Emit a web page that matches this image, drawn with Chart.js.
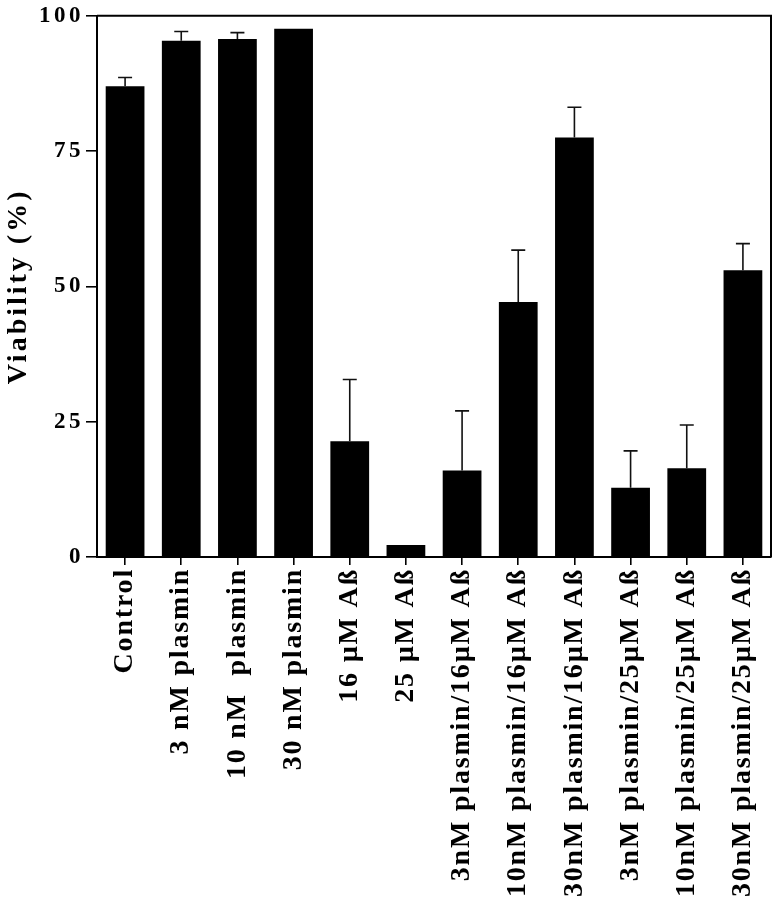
<!DOCTYPE html>
<html>
<head>
<meta charset="utf-8">
<script src="https://cdn.jsdelivr.net/npm/chart.js@4/dist/chart.umd.min.js"></script>
<style>
  html, body { margin: 0; padding: 0; background: #fff; }
  #wrap { width: 773px; height: 899px; }
</style>
</head>
<body>
<div id="wrap"><canvas id="c" width="773" height="899"></canvas></div>
<script>
const categories = [
  "Control", "3 nM plasmin", "10 nM  plasmin", "30 nM plasmin",
  "16 µM Aß", "25 µM Aß",
  "3nM plasmin/16µM Aß", "10nM plasmin/16µM Aß", "30nM plasmin/16µM Aß",
  "3nM plasmin/25µM Aß", "10nM plasmin/25µM Aß", "30nM plasmin/25µM Aß"
];
const viability = [87.0, 95.4, 95.7, 97.6, 21.4, 2.2, 16.0, 47.1, 77.5, 12.8, 16.4, 53.0];
const errorUp   = [1.6, 1.7, 1.2, 0, 11.4, 0, 11.0, 9.6, 5.6, 6.8, 8.0, 4.9];
const yTicks = [0, 25, 50, 75, 100];
const yTitle = "Viability (%)";

const FONT = "'Liberation Serif', 'Times New Roman', serif";

function spaced(scale, px, titlePx) {
  if (scale._spacedWrapped) return;
  const orig = scale.draw.bind(scale);
  scale.draw = function (area) {
    const ctx = this.ctx;
    ctx.letterSpacing = px;
    orig(area);
    ctx.letterSpacing = '0px';
  };
  if (titlePx) {
    const origTitle = scale.drawTitle.bind(scale);
    scale.drawTitle = function () {
      const ctx = this.ctx;
      ctx.letterSpacing = titlePx;
      origTitle();
      ctx.letterSpacing = px;
    };
  }
  scale._spacedWrapped = true;
}

const errorBars = {
  id: 'errorBars',
  afterDatasetsDraw(chart) {
    const ctx = chart.ctx;
    const meta = chart.getDatasetMeta(0);
    const y = chart.scales.y;
    ctx.save();
    ctx.strokeStyle = '#111';
    ctx.lineWidth = 1.6;
    meta.data.forEach((bar, i) => {
      const e = errorUp[i];
      if (!e) return;
      const y0 = y.getPixelForValue(viability[i]);
      const y1 = y.getPixelForValue(viability[i] + e);
      ctx.beginPath();
      ctx.moveTo(bar.x, y0);
      ctx.lineTo(bar.x, y1);
      ctx.moveTo(bar.x - 7, y1);
      ctx.lineTo(bar.x + 7, y1);
      ctx.stroke();
    });
    ctx.restore();
  }
};

const frame = {
  id: 'frame',
  afterDraw(chart) {
    const a = chart.chartArea;
    const ctx = chart.ctx;
    ctx.save();
    ctx.strokeStyle = '#000';
    ctx.lineWidth = 2;
    ctx.beginPath();
    ctx.moveTo(a.left, a.top);
    ctx.lineTo(a.right, a.top);
    ctx.lineTo(a.right, a.bottom);
    ctx.stroke();
    ctx.restore();
  }
};

new Chart(document.getElementById('c'), {
  type: 'bar',
  data: {
    labels: categories,
    datasets: [{
      data: viability,
      backgroundColor: '#000',
      borderWidth: 0,
      barPercentage: 0.69,
      categoryPercentage: 1.0
    }]
  },
  options: {
    responsive: false,
    animation: false,
    layout: { padding: { top: 14, right: 2, left: 0, bottom: 0 } },
    plugins: { legend: { display: false }, tooltip: { enabled: false } },
    scales: {
      x: {
        offset: true,
        grid: { display: true, drawOnChartArea: false, drawTicks: true, tickLength: 8, offset: false, color: '#000', lineWidth: 1.6 },
        border: { display: true, color: '#000', width: 2 },
        ticks: {
          autoSkip: false, maxRotation: 90, minRotation: 90, padding: 3, color: '#000',
          font: { family: FONT, size: 28, weight: 'bold' }
        },
        afterFit(scale) {
          scale.height = 342;
          scale.paddingLeft = 0;
          scale.paddingRight = 0;
          spaced(scale, '1.8px');
        }
      },
      y: {
        min: 0, max: 100,
        afterBuildTicks(scale) { scale.ticks = yTicks.map(v => ({ value: v })); },
        grid: { display: true, drawOnChartArea: false, drawTicks: true, tickLength: 11, color: '#000', lineWidth: 1.6 },
        border: { display: true, color: '#000', width: 2 },
        ticks: { padding: 2, color: '#000', font: { family: FONT, size: 23, weight: 'bold' } },
        title: { display: true, text: yTitle, color: '#000', padding: { top: 2, bottom: 0 }, font: { family: FONT, size: 28, weight: 'bold' } },
        afterFit(scale) { scale.width = 97; spaced(scale, '3.5px', '3px'); }
      }
    }
  },
  plugins: [errorBars, frame]
});
</script>
</body>
</html>
